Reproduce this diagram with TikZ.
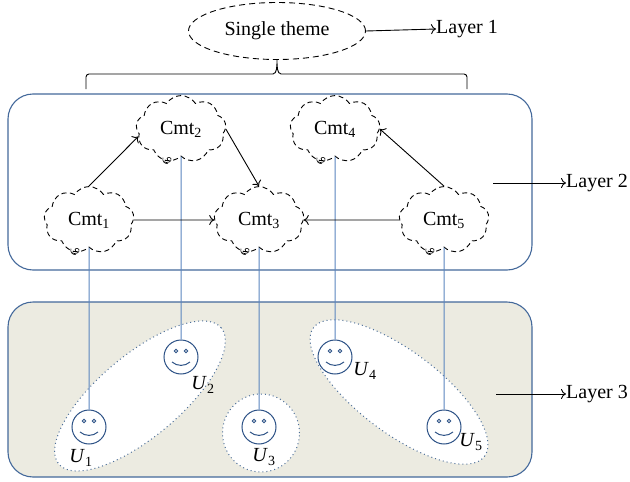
\documentclass[tikz,border=0pt]{standalone}
\usepackage{fontspec}
\setmainfont{Liberation Serif}
\usetikzlibrary{shapes.geometric,shapes.symbols,calc,arrows.meta}
\definecolor{boxblue}{HTML}{44699B}
\definecolor{lineblue}{HTML}{5A85BF}
\definecolor{faceblue}{HTML}{2D5286}
\definecolor{beige}{HTML}{ECEBE1}
\definecolor{dotblue}{HTML}{4D6F99}
\tikzset{
  lbl/.style={font=\fontsize{20}{24}\selectfont, inner sep=0pt},
  theme/.style={ellipse, draw, dashed, dash pattern=on 6pt off 4pt, line width=0.9pt,
     minimum width=177pt, minimum height=57pt, inner sep=0pt, font=\fontsize{20}{24}\selectfont},
  cmt/.style={cloud, cloud puffs=9, cloud puff arc=115, draw, dash pattern=on 5pt off 3.5pt,
     line width=0.9pt, fill=white, minimum width=90pt, minimum height=56pt, inner sep=0pt,
     font=\fontsize{20}{24}\selectfont},
  layerbox/.style={rectangle, draw=boxblue, line width=1.1pt, rounded corners=25pt,
     minimum width=524pt, minimum height=176pt, inner sep=0pt},
  group/.style={ellipse, draw=dotblue, fill=white, line width=1pt, dash pattern=on 1pt off 3pt, inner sep=0pt},
  user/.style={circle, draw=faceblue, line width=1pt, fill=white, minimum size=34pt, inner sep=0pt},
  link/.style={draw=lineblue, line width=1pt},
  flow/.style={draw, line width=0.9pt, -{To[length=5pt,width=10pt]}},
  curl/.style={line width=0.6pt},
  face/.pic={
    \draw[faceblue, line width=0.8pt] (-5,-6) circle[radius=1.7] (5,-6) circle[radius=1.7];
    \draw[faceblue, line width=1pt] (-9,5) .. controls (-4,9.5) and (4,9.5) .. (9,5);
  },
  puffcurl/.pic={
    \draw[curl] (0,0) .. controls (-3,-3) and (2,-5) .. (3,-2) .. controls (4,1) and (-1,3) .. (-4,1);
    \draw[curl] (-5,-3) .. controls (-6,0) and (-4,3) .. (0,3);
  }
}
\begin{document}
\begin{tikzpicture}[x=1pt, y=-1pt]
\useasboundingbox (0,0) rectangle (630,482);
% layer boxes
\node[layerbox, fill=white] (L2) at (270,182) {};
\node[layerbox, fill=beige, minimum height=175pt] (L3) at (270,389.5) {};
% groups
\node[group, minimum width=212pt, minimum height=82pt, rotate=40] (g1) at (140,396) {};
\node[group, minimum width=77pt, minimum height=78pt] (g2) at (261,433) {};
\node[group, minimum width=214pt, minimum height=82pt, rotate=-37] (g3) at (399,392) {};
% theme
\node[theme] (st) at (277,31) {Single theme};
\node[lbl, anchor=west] (l1) at (436,29) {Layer 1};
\draw[flow] (st.east) -- (l1.west);
% brace
\draw[line width=0.9pt, rounded corners=3pt] (86,89) -- (86,74) -- ($(st.south)+(-4,14)$);
\draw[line width=0.9pt] ($(st.south)+(-4,14)$) .. controls ($(st.south)+(0,14)$) and ($(st.south)+(0,6)$) .. (st.south)
   .. controls ($(st.south)+(0,6)$) and ($(st.south)+(0,14)$) .. ($(st.south)+(4,14)$);
\draw[line width=0.9pt, rounded corners=3pt] ($(st.south)+(4,14)$) -- (467,74) -- (467,89);
% layer labels
\node[lbl, anchor=west] (l2) at (566,183) {Layer 2};
\node[lbl, anchor=west] (l3) at (566,394) {Layer 3};
\coordinate (a2) at (493,183);
\coordinate (a3) at (496,394);
\draw[flow] (a2) -- (l2.west);
\draw[flow] (a3) -- (l3.west);
% users
\node[user] (u1) at (89,427) {};
\node[user] (u2) at (181,357) {};
\node[user] (u3) at (259,427) {};
\node[user] (u4) at (335,357) {};
\node[user] (u5) at (444,427) {};
\foreach \u in {u1,u2,u3,u4,u5} { \pic at (\u) {face}; }
\node[lbl] (t1) at (81,458) {\textit{U}\textsubscript{1}};
\node[lbl] (t2) at (203,385) {\textit{U}\textsubscript{2}};
\node[lbl] (t3) at (264,457) {\textit{U}\textsubscript{3}};
\node[lbl] (t4) at (365,371) {\textit{U}\textsubscript{4}};
\node[lbl] (t5) at (471,442) {\textit{U}\textsubscript{5}};
% comments
\node[cmt] (c1) at (89,220) {Cmt\textsubscript{1}};
\node[cmt] (c2) at (181,129) {Cmt\textsubscript{2}};
\node[cmt] (c3) at (259,220) {Cmt\textsubscript{3}};
\node[cmt] (c4) at (335,129) {Cmt\textsubscript{4}};
\node[cmt] (c5) at (444,220) {Cmt\textsubscript{5}};
\foreach \c in {c1,c2,c3,c4,c5} { \pic at ($(\c.south)+(-13,4)$) {puffcurl}; }
% links
\draw[link] (c1.south) -- (u1.north);
\draw[link] (c2.south) -- (u2.north);
\draw[link] (c3.south) -- (u3.north);
\draw[link] (c4.south) -- (u4.north);
\draw[link] (c5.south) -- (u5.north);
% flows
\draw[flow] (c1.north) -- (c2.190);
\draw[flow] (c2.east) -- (c3.north);
\draw[flow] (c1.east) -- (c3.west);
\draw[flow] (c5.west) -- (c3.east);
\draw[flow] (c5.north) -- (c4.east);
\end{tikzpicture}
\end{document}
